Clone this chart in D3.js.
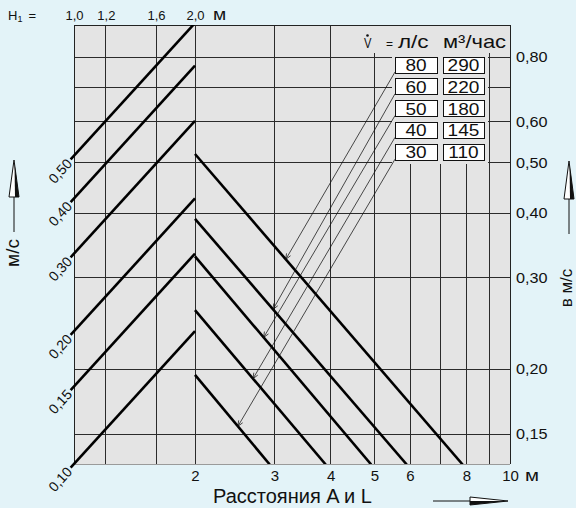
<!DOCTYPE html>
<html><head><meta charset="utf-8">
<script src="https://cdn.jsdelivr.net/npm/d3@7"></script>
<style>
html,body{margin:0;padding:0;background:#e3f3f8;}
svg{display:block;font-family:"Liberation Sans",Arial,Helvetica,sans-serif;}
</style></head><body>
<svg id="c" width="576" height="508"></svg>
<script>
// ---------- data ----------
const h1Ticks = [1.0, 1.2, 1.6, 2.0];
const h1TickLabels = ["1,0", "1,2", "1,6", "2,0"];
const h1Grid = [1.2, 1.6];
const distTicks = [2, 3, 4, 5, 6, 8, 10];
const distTickLabels = ["2", "3", "4", "5", "6", "8", "10"];
const distGrid = [2, 3, 4, 5, 6, 7, 8, 9];
const velGrid = [0.15, 0.2, 0.3, 0.4, 0.5, 0.6, 0.7, 0.8];
const velRightTicks = [0.15, 0.2, 0.3, 0.4, 0.5, 0.6, 0.8];
const velRightLabels = ["0,15", "0,20", "0,30", "0,40", "0,50", "0,60", "0,80"];
// rising lines (left part): velocity at H1 = 1,0 m and at H1 = 2,0 m
const riseStartV = [0.10, 0.15, 0.20, 0.30, 0.40, 0.50];
const riseEndV = [0.20, 0.30, 0.40, 0.60, 0.80, 1.00];
const riseLabels = ["0,10", "0,15", "0,20", "0,30", "0,40", "0,50"];
// falling lines (right part), one per flow
const flowLs = [80, 60, 50, 40, 30];
const flowM3h = [290, 220, 180, 145, 110];
const fallStartDist = [2, 2, 2, 2, 2];
const fallStartV = [0.52, 0.39, 0.33, 0.26, 0.195];
const fallEndDist = [7.85, 5.9, 4.92, 3.9, 2.93];
const fallEndV = [0.131, 0.131, 0.131, 0.131, 0.131];
// where each leader line from the legend touches its falling line
const leaderDist = [3.18, 2.98, 2.84, 2.69, 2.49];

// ---------- layout ----------
const W = 576, H = 508;
const PL = 74, PR = 510, PT = 25, PB = 464;
const BG = "#e3f3f8", PLOT = "#e4e4e4", GRID = "#2b2b2b";
const FONT = '"Liberation Sans",Arial,Helvetica,sans-serif';

const xH = d3.scaleLog().domain([1, 2]).range([PL, 195]);
const xD = d3.scaleLog().domain([2, 10]).range([195, PR]);
const yL = d3.scaleLog().domain([0.1, 1]).range([PB, 23]);
const yR = d3.scaleLog().domain([0.15, 0.8]).range([434, 57]);

const svg = d3.select("#c");
function stretch(sel, s) {
  sel.each(function () {
    const t = d3.select(this);
    const x = +t.attr("x") || 0, y = +t.attr("y") || 0;
    t.attr("transform", `translate(${x},${y}) scale(${s},1) translate(${-x},${-y})`);
  });
}

svg.append("rect").attr("width", W).attr("height", H).attr("fill", BG);
svg.append("rect").attr("x", PL).attr("y", PT).attr("width", PR - PL).attr("height", PB - PT).attr("fill", PLOT);

const defs = svg.append("defs");
defs.append("clipPath").attr("id", "plotClip").append("rect")
  .attr("x", PL).attr("y", PT).attr("width", PR - PL).attr("height", PB - PT);
defs.append("clipPath").attr("id", "riseClip").append("rect")
  .attr("x", 40).attr("y", PT).attr("width", PR - 40).attr("height", PB - PT + 20);

// ---------- grid ----------
const grid = svg.append("g").attr("stroke", GRID).attr("stroke-width", 1).attr("shape-rendering", "crispEdges");
grid.selectAll("line.vh").data(h1Grid).join("line").attr("class", "vh")
  .attr("x1", d => xH(d)).attr("x2", d => xH(d)).attr("y1", PT).attr("y2", PB);
grid.selectAll("line.vd").data(distGrid).join("line").attr("class", "vd")
  .attr("x1", d => xD(d)).attr("x2", d => xD(d)).attr("y1", PT).attr("y2", PB);
grid.selectAll("line.hv").data(velGrid).join("line").attr("class", "hv")
  .attr("x1", PL).attr("x2", PR).attr("y1", d => yR(d)).attr("y2", d => yR(d));

// legend area hides the grid
svg.append("rect").attr("x", 357).attr("y", PT + 1).attr("width", PR - 357 - 1).attr("height", 27).attr("fill", PLOT);
svg.append("rect").attr("x", 392).attr("y", 52).attr("width", 96).attr("height", 112).attr("fill", PLOT);

// border
const border = svg.append("g").attr("shape-rendering", "crispEdges").attr("stroke-width", 1);
border.append("line").attr("x1", PL).attr("x2", PR).attr("y1", PT).attr("y2", PT).attr("stroke", "#222");
border.append("line").attr("x1", PL).attr("x2", PL).attr("y1", PT).attr("y2", PB).attr("stroke", "#222");
border.append("line").attr("x1", PR).attr("x2", PR).attr("y1", PT).attr("y2", PB).attr("stroke", "#222");
border.append("line").attr("x1", PL).attr("x2", PR).attr("y1", PB).attr("y2", PB).attr("stroke", "#9a9a9a");

// ---------- rising lines ----------
const riseData = riseStartV.map((v, i) => ({ v0: v, v1: riseEndV[i], label: riseLabels[i] }));
const riseG = svg.append("g");
riseData.forEach(d => {
  const p0 = [xH(1), yL(d.v0)], p1 = [xH(2), yL(d.v1)];
  const dx = p0[0] - p1[0], dy = p0[1] - p1[1], len = Math.hypot(dx, dy);
  const ux = dx / len, uy = dy / len;
  const s = [p0[0] + ux * 5, p0[1] + uy * 5];
  riseG.append("path").attr("clip-path", "url(#riseClip)")
    .attr("d", d3.line()([s, p1])).attr("stroke", "#000").attr("stroke-width", 2.6).attr("fill", "none");
  const ang = Math.atan2(p1[1] - p0[1], p1[0] - p0[0]) * 180 / Math.PI;
  const lp = [p0[0] + ux * 7, p0[1] + uy * 7];
  riseG.append("text").attr("transform", `translate(${lp[0]},${lp[1]}) rotate(${ang})`)
    .attr("text-anchor", "end").attr("dy", "0.36em").attr("font-size", 14).attr("fill", "#111").text(d.label);
});

// ---------- falling lines ----------
const fallData = flowLs.map((q, i) => ({
  q, pts: [[fallStartDist[i], fallStartV[i]], [fallEndDist[i], fallEndV[i]]]
}));
const fallLine = d3.line().x(d => xD(d[0])).y(d => yR(d[1]));
svg.append("g").attr("clip-path", "url(#plotClip)").selectAll("path").data(fallData).join("path")
  .attr("d", d => fallLine(d.pts)).attr("stroke", "#000").attr("stroke-width", 2.6).attr("fill", "none");

// ---------- legend ----------
const boxW1 = 42, boxW2 = 41, boxH = 16, col1 = 395, col2 = 443, row0 = 57, pitch = 21.8;
const leg = svg.append("g");
const leaders = svg.append("g").attr("stroke", "#111").attr("stroke-width", 0.75).attr("fill", "none");
fallData.forEach((d, i) => {
  const y = row0 + i * pitch;
  const a = [xD(d.pts[0][0]), yR(d.pts[0][1])], b = [xD(d.pts[1][0]), yR(d.pts[1][1])];
  const tx = xD(leaderDist[i]);
  const t = (tx - a[0]) / (b[0] - a[0]);
  const tip = [tx, a[1] + t * (b[1] - a[1])];
  const st = [col1, y + boxH - 1];
  leaders.append("path").attr("d", d3.line()([st, tip]));
  const ang = Math.atan2(tip[1] - st[1], tip[0] - st[0]);
  const ah = 6, spread = 0.4;
  const w1 = [tip[0] - ah * Math.cos(ang - spread), tip[1] - ah * Math.sin(ang - spread)];
  const w2 = [tip[0] - ah * Math.cos(ang + spread), tip[1] - ah * Math.sin(ang + spread)];
  leaders.append("path").attr("d", d3.line()([w1, tip, w2]));
  leg.append("rect").attr("x", col1).attr("y", y).attr("width", boxW1).attr("height", boxH)
    .attr("fill", "#fff").attr("stroke", "#111").attr("stroke-width", 1).attr("shape-rendering", "crispEdges");
  leg.append("rect").attr("x", col2).attr("y", y).attr("width", boxW2).attr("height", boxH)
    .attr("fill", "#fff").attr("stroke", "#111").attr("stroke-width", 1).attr("shape-rendering", "crispEdges");
  leg.append("text").attr("x", col1 + boxW1 / 2).attr("y", y + 14).attr("text-anchor", "middle")
    .attr("font-size", 17).attr("fill", "#111").text(d.q).call(stretch, 1.12);
  leg.append("text").attr("x", col2 + boxW2 / 2).attr("y", y + 14).attr("text-anchor", "middle")
    .attr("font-size", 17).attr("fill", "#111").text(flowM3h[i]).call(stretch, 1.12);
});
// header
leg.append("text").attr("x", 364).attr("y", 48).attr("font-size", 14).attr("fill", "#111").text("V").call(stretch, 0.8);
leg.append("circle").attr("cx", 367.5).attr("cy", 35.5).attr("r", 1.3).attr("fill", "#111");
leg.append("text").attr("x", 386).attr("y", 48).attr("font-size", 12).attr("fill", "#111").text("=");
leg.append("text").attr("x", 398).attr("y", 48).attr("font-size", 18).attr("fill", "#111").text("л/с").call(stretch, 1.25);
leg.append("text").attr("x", 443).attr("y", 48).attr("font-size", 18).attr("fill", "#111").text("м³/час").call(stretch, 1.22);

// ---------- axes ----------
const bottomAxis = d3.axisBottom(xD).tickValues(distTicks).tickFormat((d, i) => distTickLabels[i]).tickSize(0).tickPadding(6);
const gb = svg.append("g").attr("transform", `translate(0,${PB})`).call(bottomAxis);
gb.select(".domain").remove();
gb.selectAll("text").attr("font-size", 15).attr("font-family", FONT).attr("fill", "#111");
svg.append("text").attr("x", 525).attr("y", 481).attr("font-size", 17).attr("fill", "#111").text("м").call(stretch, 1.2);

const topAxis = d3.axisTop(xH).tickValues(h1Ticks).tickFormat((d, i) => h1TickLabels[i]).tickSize(0).tickPadding(5);
const gt = svg.append("g").attr("transform", `translate(0,${PT})`).call(topAxis);
gt.select(".domain").remove();
gt.selectAll("text").attr("font-size", 13).attr("font-family", FONT).attr("fill", "#111");
svg.append("text").attr("x", 213).attr("y", 20).attr("font-size", 16).attr("fill", "#111").text("м").call(stretch, 1.2);
const h1t = svg.append("text").attr("x", 8).attr("y", 20).attr("font-size", 13).attr("fill", "#111");
h1t.append("tspan").text("H");
h1t.append("tspan").attr("font-size", 9).attr("dy", 2).text("1");
h1t.append("tspan").attr("dy", -2).attr("dx", 6).text("=");

const rightAxis = d3.axisRight(yR).tickValues(velRightTicks).tickFormat(d => velRightLabels[velRightTicks.indexOf(d)]).tickSize(0).tickPadding(6);
const gr = svg.append("g").attr("transform", `translate(${PR},0)`).call(rightAxis);
gr.select(".domain").remove();
gr.selectAll("text").attr("font-size", 14.5).attr("font-family", FONT).attr("fill", "#111").call(stretch, 1.12);

// ---------- axis titles and arrows ----------
svg.append("text").attr("x", 213).attr("y", 503).attr("font-size", 20).attr("fill", "#111").text("Расстояния A и L");

function upArrow(cx, tipY, baseY, lineEnd) {
  const g = svg.append("g");
  g.append("line").attr("x1", cx).attr("x2", cx).attr("y1", baseY).attr("y2", lineEnd).attr("stroke", "#111").attr("stroke-width", 1);
  g.append("path").attr("d", d3.line()([[cx, tipY], [cx - 5, baseY], [cx + 5, baseY]]) + "Z")
    .attr("fill", "#fff").attr("stroke", "#111").attr("stroke-width", 1);
  g.append("path").attr("d", d3.line()([[cx + 0.5, tipY + 3], [cx + 5, baseY], [cx + 1, baseY]]) + "Z").attr("fill", "#111");
}
upArrow(14, 160, 197, 232);
upArrow(569, 161, 199, 234);
svg.append("text").attr("transform", "translate(19,253) rotate(-90)").attr("text-anchor", "middle")
  .attr("font-size", 19).attr("fill", "#111").text("м/с");
svg.append("text").attr("transform", "translate(572,288) rotate(-90)").attr("text-anchor", "middle")
  .attr("font-size", 17).attr("fill", "#111").text("в м/с");

// bottom arrow
const ba = svg.append("g");
ba.append("line").attr("x1", 433).attr("x2", 470).attr("y1", 501).attr("y2", 501).attr("stroke", "#111").attr("stroke-width", 1);
ba.append("path").attr("d", d3.line()([[470, 497], [508, 501], [470, 505]]) + "Z").attr("fill", "#fff").attr("stroke", "#111").attr("stroke-width", 1);
ba.append("path").attr("d", d3.line()([[470, 501], [507, 501], [470, 505]]) + "Z").attr("fill", "#111");
</script>
</body></html>
